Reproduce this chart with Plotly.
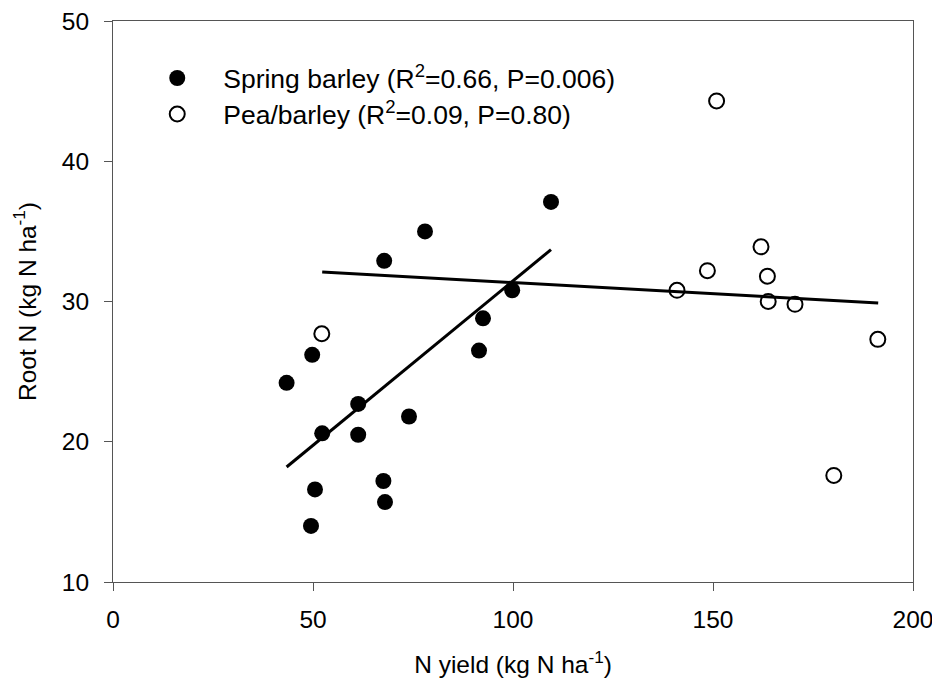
import plotly.graph_objects as go

# Spring barley (filled)
sb_x = [43.4, 49.8, 50.5, 49.5, 52.3, 61.3, 61.3, 67.8, 67.6, 68.0, 74.0, 78.0, 91.5, 92.5, 99.8, 109.5]
sb_y = [24.2, 26.2, 16.6, 14.0, 20.6, 20.5, 22.7, 32.9, 17.2, 15.7, 21.8, 35.0, 26.5, 28.8, 30.8, 37.1]
# Pea/barley (open)
pb_x = [52.2, 141.0, 148.6, 150.9, 162.0, 163.6, 163.8, 170.5, 180.2, 191.2]
pb_y = [27.7, 30.8, 32.2, 44.3, 33.9, 31.8, 30.0, 29.8, 17.6, 27.3]
# Regression line endpoints
sb_fit_x = [43.4, 109.5]
sb_fit_y = [18.2, 33.7]
pb_fit_x = [52.3, 191.3]
pb_fit_y = [32.1, 29.9]

x_ticks = [0, 50, 100, 150, 200]
y_ticks = [10, 20, 30, 40, 50]

FONT = "Liberation Sans, Arial, sans-serif"
AX_SIZE = 24.5
LEG_SIZE = 26.5

fig = go.Figure()
fig.add_trace(go.Scatter(x=sb_fit_x, y=sb_fit_y, mode="lines",
                         line=dict(color="black", width=3), showlegend=False, hoverinfo="skip"))
fig.add_trace(go.Scatter(x=pb_fit_x, y=pb_fit_y, mode="lines",
                         line=dict(color="black", width=3), showlegend=False, hoverinfo="skip"))
fig.add_trace(go.Scatter(x=sb_x, y=sb_y, mode="markers", legend="legend",
                         name="Spring barley (R<sup>2</sup>=0.66, P=0.006)",
                         marker=dict(symbol="circle", size=16, color="black", line=dict(width=0))))
fig.add_trace(go.Scatter(x=pb_x, y=pb_y, mode="markers", legend="legend2",
                         name="Pea/barley (R<sup>2</sup>=0.09, P=0.80)",
                         marker=dict(symbol="circle-open", size=15, color="black", line=dict(width=2, color="black"))))

axis_common = dict(showgrid=False, zeroline=False, showline=True, linecolor="#555555", linewidth=1,
                   mirror=True, ticks="outside", ticklen=8, tickcolor="#555555", tickwidth=1,
                   automargin=False, ticklabeloverflow="allow",
                   tickfont=dict(family=FONT, size=AX_SIZE, color="black"))

fig.update_xaxes(range=[0, 200], tickvals=x_ticks, ticklabelstandoff=8,
                 title=dict(text="N yield (kg N ha<sup>-1</sup>)", font=dict(family=FONT, size=AX_SIZE, color="black"), standoff=23),
                 **axis_common)
fig.update_yaxes(range=[10, 50], tickvals=y_ticks, ticklabelstandoff=10,
                 title=dict(text="Root N (kg N ha<sup>-1</sup>)", font=dict(family=FONT, size=AX_SIZE, color="black"), standoff=18),
                 **axis_common)

leg_common = dict(xanchor="left", yanchor="top", bgcolor="rgba(0,0,0,0)",
                  itemwidth=82, font=dict(family=FONT, size=LEG_SIZE, color="black"))
fig.update_layout(
    width=932, height=685,
    margin=dict(l=105, r=27, t=13, b=111),
    paper_bgcolor="white", plot_bgcolor="white",
    font=dict(family=FONT, size=AX_SIZE, color="black"),
    legend=dict(x=0.0228, y=0.9407, **leg_common),
    legend2=dict(x=0.0228, y=0.8765, **leg_common),
)

fig.write_html("out.html")
